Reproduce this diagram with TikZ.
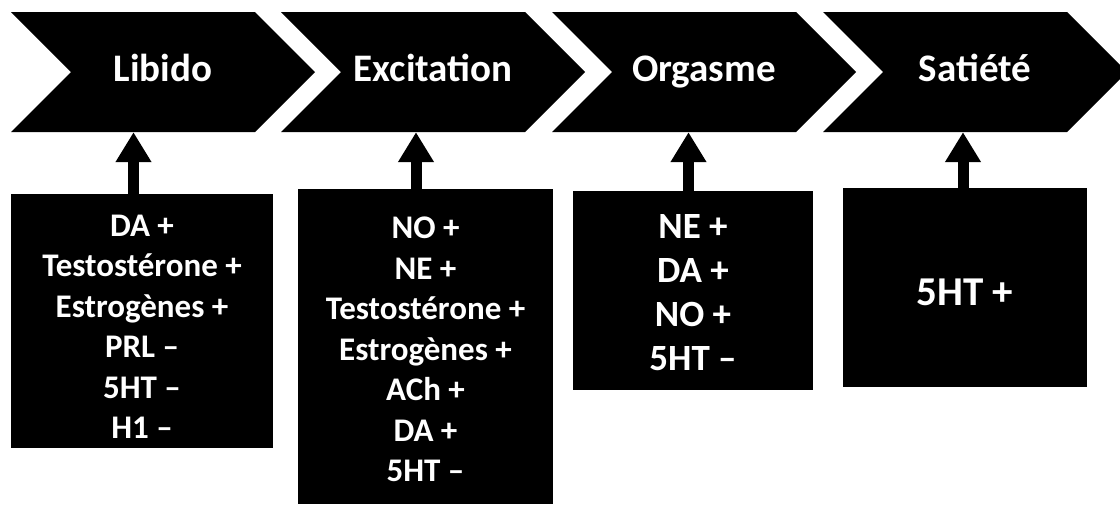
\documentclass[tikz,border=0pt]{standalone}
\usepackage{fontspec}
\setmainfont{Carlito}
\usetikzlibrary{arrows.meta,calc}
\begin{document}
\begin{tikzpicture}[x=1pt,y=-1pt,
  chevbody/.style={inner sep=0pt, minimum height=120pt, minimum width=184pt,
    text height=27pt, text depth=8pt,
    text=white, font=\fontsize{39}{47}\selectfont\bfseries},
  boxnode/.style={fill=black, draw=none, inner sep=0pt},
  smalltxt/.style={text=white, align=center, inner sep=0pt,
    font=\fontsize{33}{40.5}\selectfont\bfseries},
  midtxt/.style={text=white, align=center, inner sep=0pt,
    font=\fontsize{37}{44}\selectfont\bfseries},
  bigtxt/.style={text=white, align=center, inner sep=0pt,
    font=\fontsize{41}{48}\selectfont\bfseries},
  uparrow/.style={draw=black, line width=11pt, -{Triangle[width=34pt,length=30pt]}}
]
\useasboundingbox (0,0) rectangle (1120,504);
\fill[white] (0,0) rectangle (1120,504);

% chevron shapes (drawn first), title nodes on top
\foreach \cx in {163, 433, 704, 975}{
  \fill[black] (\cx-152,12) -- (\cx+92,12) -- (\cx+152,72) -- (\cx+92,132)
     -- (\cx-152,132) -- (\cx-92,72) -- cycle;
}
\node[chevbody] (c1) at (163,72) {Libido};
\node[chevbody] (c2) at (433,72) {Excitation};
\node[chevbody] (c3) at (704,72) {Orgasme};
\node[chevbody] (c4) at (975,72) {Satiété};

% boxes
\node[boxnode, minimum width=262pt, minimum height=254pt] (b1) at (142,321) {};
\node[boxnode, minimum width=255pt, minimum height=315pt] (b2) at (425.5,346.5) {};
\node[boxnode, minimum width=240pt, minimum height=199pt] (b3) at (693,290.5) {};
\node[boxnode, minimum width=244pt, minimum height=199pt] (b4) at (965,287.5) {};

% box texts
\node[smalltxt] (t1) at ($(b1.center)+(0,6)$) {DA +\\Testostérone +\\Estrogènes +\\PRL –\\5HT –\\H1 –};
\node[smalltxt] (t2) at ($(b2.center)+(0,3)$) {NO +\\NE +\\Testostérone +\\Estrogènes +\\ACh +\\DA +\\5HT –};
\node[midtxt] (t3) at ($(b3.center)+(0,2)$) {NE +\\DA +\\NO +\\5HT –};
\node[bigtxt] (t4) at ($(b4.center)+(0,5)$) {5HT +};

% arrows from boxes up to chevrons
\draw[uparrow] ([xshift=-8.5pt]b1.north) -- ([xshift=-8.5pt]b1.north |- c1.south);
\draw[uparrow] ([xshift=-9.5pt]b2.north) -- ([xshift=-9.5pt]b2.north |- c2.south);
\draw[uparrow] ([xshift=-4.5pt]b3.north) -- ([xshift=-4.5pt]b3.north |- c3.south);
\draw[uparrow] ([xshift=-2pt]b4.north) -- ([xshift=-2pt]b4.north |- c4.south);
\end{tikzpicture}
\end{document}
